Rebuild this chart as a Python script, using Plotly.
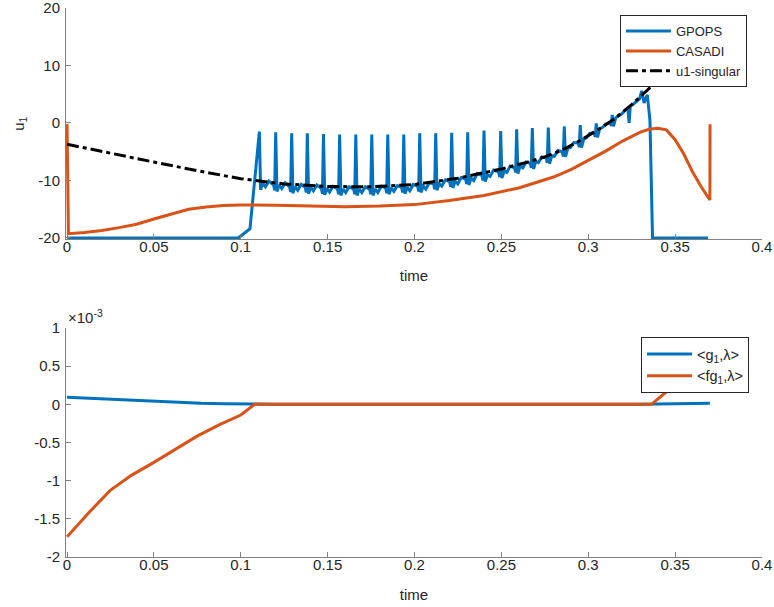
import plotly.graph_objects as go

# ---------------- data ----------------
# top panel: control u1 versus time
gpops_t = [
    0.0, 0.0986, 0.1053,
    0.1107, 0.1114, 0.1127, 0.1142, 0.1162,
    0.1189, 0.1195, 0.1201, 0.1208, 0.1221, 0.1236, 0.1256,
    0.1281, 0.1287, 0.1293, 0.1300, 0.1313, 0.1328, 0.1348,
    0.1371, 0.1377, 0.1383, 0.1390, 0.1403, 0.1418, 0.1438,
    0.1464, 0.1470, 0.1476, 0.1483, 0.1496, 0.1511, 0.1531,
    0.1557, 0.1563, 0.1569, 0.1576, 0.1589, 0.1604, 0.1624,
    0.1650, 0.1656, 0.1662, 0.1669, 0.1682, 0.1697, 0.1717,
    0.1742, 0.1748, 0.1754, 0.1761, 0.1774, 0.1789, 0.1809,
    0.1834, 0.1840, 0.1846, 0.1853, 0.1866, 0.1881, 0.1901,
    0.1926, 0.1932, 0.1938, 0.1945, 0.1958, 0.1973, 0.1993,
    0.2018, 0.2024, 0.2030, 0.2037, 0.2050, 0.2065, 0.2085,
    0.2110, 0.2116, 0.2122, 0.2129, 0.2142, 0.2157, 0.2177,
    0.2202, 0.2208, 0.2214, 0.2221, 0.2234, 0.2249, 0.2269,
    0.2294, 0.2300, 0.2306, 0.2313, 0.2326, 0.2341, 0.2361,
    0.2388, 0.2394, 0.2400, 0.2407, 0.2420, 0.2435, 0.2455,
    0.2484, 0.2490, 0.2496, 0.2503, 0.2516, 0.2531, 0.2551,
    0.2576, 0.2582, 0.2588, 0.2595, 0.2608, 0.2623, 0.2643,
    0.2666, 0.2672, 0.2678, 0.2685, 0.2698, 0.2713, 0.2733,
    0.2758, 0.2764, 0.2770, 0.2777, 0.2790, 0.2805, 0.2825,
    0.2850, 0.2856, 0.2862, 0.2869, 0.2882, 0.2897, 0.2917,
    0.2942, 0.2948, 0.2954, 0.2961, 0.2974, 0.2989, 0.3009,
    0.3034, 0.3040, 0.3046, 0.3053, 0.3066, 0.3081, 0.3101,
    0.3126, 0.3132, 0.3138, 0.3145, 0.3158, 0.3173, 0.3193,
    0.3215, 0.3228, 0.3235, 0.3242, 0.3260, 0.3280, 0.3295,
    0.3308, 0.3321, 0.3340, 0.3355, 0.3370, 0.3689,
]
gpops_u = [
    -20.0, -20.0, -18.4,
    -1.5, -11.6, -10.5, -11.1, -10.1,
    -10.8, -11.7, -1.6, -11.9, -10.8, -11.4, -10.4,
    -11.1, -12.0, -1.8, -12.2, -11.1, -11.7, -10.7,
    -11.2, -12.1, -1.8, -12.3, -11.2, -11.8, -10.8,
    -11.4, -12.3, -1.9, -12.5, -11.4, -12.0, -11.0,
    -11.5, -12.4, -2.0, -12.6, -11.5, -12.1, -11.1,
    -11.5, -12.4, -2.0, -12.6, -11.5, -12.1, -11.1,
    -11.5, -12.4, -2.0, -12.6, -11.5, -12.1, -11.0,
    -11.3, -12.2, -2.0, -12.4, -11.3, -11.9, -10.9,
    -11.2, -12.1, -2.0, -12.3, -11.2, -11.8, -10.7,
    -11.0, -11.9, -1.8, -12.1, -11.0, -11.5, -10.4,
    -10.6, -11.5, -1.8, -11.7, -10.6, -11.0, -9.9,
    -10.2, -11.1, -1.7, -11.3, -10.1, -10.6, -9.5,
    -9.7, -10.6, -1.6, -10.8, -9.6, -10.0, -8.8,
    -9.1, -10.0, -1.3, -10.2, -9.0, -9.3, -8.2,
    -8.5, -9.4, -1.4, -9.6, -8.3, -8.6, -7.5,
    -7.8, -8.6, -1.1, -8.8, -7.5, -7.8, -6.8,
    -7.0, -7.8, -0.9, -8.0, -6.7, -6.9, -5.9,
    -6.1, -6.9, -0.8, -7.1, -5.7, -5.8, -4.8,
    -5.0, -5.8, -0.6, -5.9, -4.4, -4.3, -3.4,
    -3.5, -4.2, -0.35, -4.3, -2.8, -2.6, -1.8,
    -1.7, -2.4, -0.05, -2.5, -1.0, -0.8, -0.2,
    0.1, -0.5, 1.4, -0.6, 0.9, 1.2, 1.6,
    2.3, 2.6, 0.0, 2.9, 3.3, 3.8, 4.2,
    5.6, 3.5, 4.9, 0.5, -20.0, -20.0,
]

casadi_t = [0.0, 0.0008, 0.01, 0.02, 0.03, 0.04, 0.05, 0.06, 0.07, 0.08, 0.09,
            0.1, 0.11, 0.12, 0.14, 0.16, 0.18, 0.2, 0.22, 0.24, 0.26, 0.28,
            0.29, 0.30, 0.31, 0.32, 0.33, 0.335, 0.34, 0.345, 0.35, 0.355,
            0.36, 0.365, 0.37, 0.3701]
casadi_u = [-0.2, -19.25, -19.05, -18.7, -18.2, -17.6, -16.7, -15.8, -15.0, -14.6, -14.35,
            -14.25, -14.25, -14.3, -14.45, -14.55, -14.45, -14.2, -13.5, -12.6, -11.3, -9.4,
            -8.1, -6.5, -4.9, -3.1, -1.6, -1.1, -0.9, -1.2, -2.9, -5.4,
            -8.5, -11.1, -13.4, -0.2]

sing_t = [0.0, 0.025, 0.05, 0.075, 0.1, 0.125, 0.15, 0.175, 0.2, 0.225, 0.25,
          0.265, 0.275, 0.285, 0.295, 0.305, 0.315, 0.325, 0.335, 0.345, 0.355, 0.37]
sing_u = [-3.7, -5.3, -6.8, -8.3, -9.7, -10.6, -11.05, -11.1, -10.7, -9.6, -8.0,
          -6.8, -5.9, -4.7, -3.1, -1.3, 0.7, 3.2, 6.0, 8.8, 11.3, 13.5]

# bottom panel: <g1,lambda> and <fg1,lambda>
g1_t = [0.0, 0.0125, 0.0247, 0.037, 0.05, 0.0625, 0.077, 0.09, 0.1, 0.12, 0.2, 0.3, 0.33, 0.37]
g1_v = [0.092e-3, 0.078e-3, 0.065e-3, 0.049e-3, 0.034e-3, 0.022e-3, 0.013e-3,
        0.007e-3, 0.004e-3, 0.001e-3, 0.0, 0.0, 0.002e-3, 0.015e-3]

fg1_t = [0.0, 0.0125, 0.0247, 0.037, 0.05, 0.0625, 0.0746, 0.0875, 0.1, 0.108,
         0.2, 0.3, 0.3364, 0.345, 0.37]
fg1_v = [-1.735e-3, -1.42e-3, -1.13e-3, -0.93e-3, -0.76e-3, -0.59e-3, -0.42e-3,
         -0.27e-3, -0.14e-3, 0.0, 0.0, 0.0, 0.0, 0.165e-3, 0.62e-3]

time_ticks = [0, 0.05, 0.1, 0.15, 0.2, 0.25, 0.3, 0.35, 0.4]
time_labels = ["0", "0.05", "0.1", "0.15", "0.2", "0.25", "0.3", "0.35", "0.4"]
u_ticks = [-20, -10, 0, 10, 20]
u_labels = ["-20", "-10", "0", "10", "20"]
lam_ticks = [-2e-3, -1.5e-3, -1e-3, -0.5e-3, 0.0, 0.5e-3, 1e-3]
lam_labels = ["-2", "-1.5", "-1", "-0.5", "0", "0.5", "1"]

assert len(gpops_t) == len(gpops_u)

# ---------------- styling ----------------
BLUE = "#0072BD"
ORANGE = "#D95319"
TXT = "#262626"
AXL = "#808080"
FONT = "Liberation Sans, Arial, Helvetica, sans-serif"

fig = go.Figure()
fig.add_trace(go.Scatter(x=gpops_t, y=gpops_u, mode="lines", name="GPOPS",
                         line=dict(color=BLUE, width=3), xaxis="x", yaxis="y", legend="legend"))
fig.add_trace(go.Scatter(x=casadi_t, y=casadi_u, mode="lines", name="CASADI",
                         line=dict(color=ORANGE, width=3), xaxis="x", yaxis="y", legend="legend"))
fig.add_trace(go.Scatter(x=sing_t, y=sing_u, mode="lines", name="u1-singular",
                         line=dict(color="black", width=3, dash="12px,4px,4px,4px"),
                         xaxis="x", yaxis="y", legend="legend"))
fig.add_trace(go.Scatter(x=g1_t, y=g1_v, mode="lines", name="&lt;g<sub>1</sub>,λ&gt;",
                         line=dict(color=BLUE, width=3), xaxis="x2", yaxis="y2", legend="legend2"))
fig.add_trace(go.Scatter(x=fg1_t, y=fg1_v, mode="lines", name="&lt;fg<sub>1</sub>,λ&gt;",
                         line=dict(color=ORANGE, width=3), xaxis="x2", yaxis="y2", legend="legend2"))

axis_common = dict(showline=True, linecolor=AXL, linewidth=1, ticks="inside", ticklen=5,
                   tickcolor=AXL, showgrid=False, zeroline=False, mirror=False,
                   automargin=False, ticklabeloverflow="allow",
                   tickfont=dict(size=15, color=TXT))
xax = dict(axis_common, ticklabelstandoff=-6)
yax = dict(axis_common, ticklabelstandoff=2)

fig.update_layout(
    width=774, height=607,
    margin=dict(l=66, r=12, t=8, b=50, autoexpand=False),
    paper_bgcolor="white", plot_bgcolor="white",
    font=dict(family=FONT, size=14, color=TXT),
    xaxis=dict(domain=[0, 1], anchor="y", range=[-0.0006, 0.4],
               tickvals=time_ticks, ticktext=time_labels,
               title=dict(text="time", standoff=16, font=dict(size=15)), **xax),
    yaxis=dict(domain=[0.5785, 1], anchor="x", range=[-20.25, 20],
               tickvals=u_ticks, ticktext=u_labels,
               title=dict(text="u<sub>1</sub>", standoff=10, font=dict(size=15)), **yax),
    xaxis2=dict(domain=[0, 1], anchor="y2", range=[-0.0006, 0.4],
                tickvals=time_ticks, ticktext=time_labels,
                title=dict(text="time", standoff=17, font=dict(size=15)), **xax),
    yaxis2=dict(domain=[0, 0.4171], anchor="x2", range=[-2e-3, 1e-3],
                tickvals=lam_ticks, ticktext=lam_labels, **yax),
    legend=dict(x=0.9784, y=0.9872, xanchor="right", yanchor="top",
                bgcolor="white", bordercolor=TXT, borderwidth=1,
                font=dict(size=13, color=TXT), itemwidth=45, tracegroupgap=0),
    legend2=dict(x=0.9813, y=0.4007, xanchor="right", yanchor="top",
                 bgcolor="white", bordercolor=TXT, borderwidth=1,
                 font=dict(size=14.5, color=TXT), itemwidth=45, tracegroupgap=0),
    annotations=[dict(text="×10<sup>-3</sup>", xref="paper", yref="paper",
                      x=0.0, y=0.4171, xanchor="left", yanchor="bottom",
                      showarrow=False, font=dict(size=15, color=TXT))],
)

fig.write_html("out.html", config={"displayModeBar": False},
               post_script="document.body.style.margin='0';document.body.style.padding='0';")
